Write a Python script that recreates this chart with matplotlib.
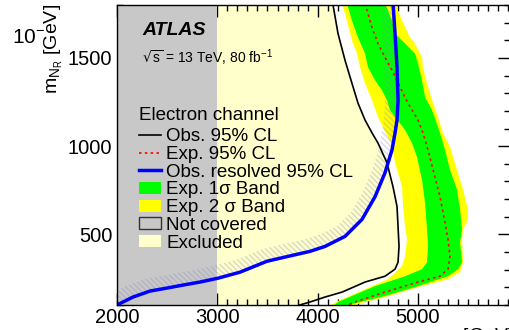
import numpy as np
import matplotlib
matplotlib.use("Agg")
import matplotlib.pyplot as plt
from matplotlib.patches import Patch, Polygon
from matplotlib.lines import Line2D
from matplotlib.ticker import MultipleLocator
from matplotlib.transforms import IdentityTransform

plt.rcParams['font.family'] = ['Liberation Sans', 'DejaVu Sans']
plt.rcParams['mathtext.default'] = 'regular'

# observed limit (black)
obs_x = [4150, 4203, 4273, 4342, 4402, 4472, 4542, 4601, 4691, 4751, 4791, 4801, 4811,
         4801, 4771, 4671, 4472, 4243, 4073, 3924, 3820]
obs_y = [1810, 1638, 1486, 1356, 1244, 1148, 1075, 1018, 906, 770, 658, 545, 432,
         342, 303, 263, 230, 173, 145, 117, 100]

# expected limit (red dotted)
exp_x = [4472, 4542, 4601, 4671, 4741, 4821, 4900, 5000, 5050, 5100, 5150, 5219, 5269,
         5299, 5319, 5299, 5219, 5000, 4671, 4402, 4300]
exp_y = [1810, 1672, 1582, 1503, 1430, 1334, 1244, 1148, 1075, 979, 866, 714, 568,
         472, 376, 303, 263, 230, 173, 123, 100]

# 2 sigma band edges
band2_lo_x = [4243, 4292, 4342, 4392, 4422, 4472, 4542, 4601, 4651, 4691, 4741, 4771,
              4841, 4851, 4871, 4891, 4871, 4841, 4701, 4472, 4203, 4100]
band2_lo_y = [1810, 1711, 1599, 1525, 1447, 1356, 1261, 1165, 1108, 1063, 1007, 906,
              770, 658, 545, 472, 376, 320, 246, 190, 123, 90]
band2_hi_x = [4771, 4841, 4920, 4970, 5040, 5050, 5090, 5140, 5199, 5249, 5319, 5389,
              5449, 5498, 5498, 5449, 5439, 5449, 5419, 5299, 5000, 4671, 4402, 4360]
band2_hi_y = [1810, 1711, 1616, 1582, 1503, 1447, 1356, 1261, 1165, 1075, 996, 866,
              754, 641, 585, 528, 472, 342, 286, 246, 201, 145, 106, 90]

# 1 sigma band edges
band1_lo_x = [4292, 4342, 4402, 4472, 4502, 4572, 4641, 4691, 4721, 4871, 4940, 4990,
              5040, 5070, 5090, 5100, 5090, 5040, 4871, 4572, 4342, 4203, 4150]
band1_lo_y = [1810, 1711, 1616, 1525, 1447, 1373, 1317, 1261, 1204, 1092, 1018, 939,
              810, 680, 528, 432, 342, 303, 263, 207, 151, 117, 90]
band1_hi_x = [4671, 4741, 4771, 4871, 4970, 5000, 5040, 5070, 5140, 5199, 5219, 5269,
              5319, 5389, 5419, 5439, 5419, 5439, 5399, 5299, 5000, 4671, 4342, 4300]
band1_hi_y = [1810, 1711, 1638, 1582, 1525, 1469, 1373, 1278, 1204, 1108, 1075, 979,
              866, 754, 641, 528, 455, 342, 303, 263, 207, 151, 106, 90]

# resolved observed limit (blue)
res_x = [2000, 2159, 2329, 2498, 2658, 2827, 3007, 3226, 3495, 3754, 3924, 4073, 4273,
         4442, 4572, 4671, 4741, 4771, 4791, 4801, 4791, 4771, 4751]
res_y = [100, 145, 179, 196, 213, 230, 252, 286, 348, 382, 404, 432, 489,
         585, 714, 849, 979, 1075, 1148, 1261, 1447, 1638, 1810]

not_covered = (2000, 3000)

legend_labels = ["Obs. 95% CL", "Exp. 95% CL", "Obs. resolved 95% CL",
                 "Exp. 1σ Band", "Exp. 2 σ Band", "Not covered", "Excluded"]

grey = '#c8c8c8'
light = '#ffffcc'

fig = plt.figure(figsize=(5.1, 3.3), dpi=100)
ax = fig.add_axes([117/510, 25/330, 393/510, 300/330])
ax.set_xlim(2000, 5917)
ax.set_ylim(100, 1800)

# excluded region
ex_x = list(obs_x) + [2000, 2000]
ex_y = list(obs_y) + [100, 1810]
ax.fill(ex_x, ex_y, color=light, lw=0, zorder=1)

# bands
ax.fill(band2_lo_x + band2_hi_x[::-1], band2_lo_y + band2_hi_y[::-1], color='#ffff00', lw=0, zorder=2)
ax.fill(band1_lo_x + band1_hi_x[::-1], band1_lo_y + band1_hi_y[::-1], color='#00ff00', lw=0, zorder=3)

# not covered
ax.axvspan(not_covered[0], not_covered[1], color=grey, lw=0, zorder=4)

# hatched side of the resolved limit
pts = ax.transData.transform(np.column_stack([res_x, res_y]))
t = np.gradient(pts, axis=0)
t /= np.hypot(t[:, 0], t[:, 1])[:, None]
nrm = np.column_stack([-t[:, 1], t[:, 0]])
off = pts + 13 * nrm
poly = np.vstack([pts, off[::-1]])
hatch = Polygon(poly, closed=True, transform=IdentityTransform(), facecolor='none',
                edgecolor='#8888bb', lw=0, hatch='\\' * 6, alpha=0.32, zorder=5)
ax.add_patch(hatch)
ax.set_xlim(2000, 5917)
ax.set_ylim(100, 1800)

ax.plot(obs_x, obs_y, color='black', lw=1.2, zorder=6)
ax.plot(exp_x, exp_y, color='red', lw=1.2, ls=(0, (1.5, 2)), zorder=6)
ax.plot(res_x, res_y, color='blue', lw=2.5, zorder=7)

ax.xaxis.set_major_locator(MultipleLocator(1000))
ax.xaxis.set_minor_locator(MultipleLocator(100))
ax.yaxis.set_major_locator(MultipleLocator(500))
ax.yaxis.set_minor_locator(MultipleLocator(100))
ax.tick_params(which='both', direction='in', top=True, right=True, labelsize=14.5, width=1)
ax.tick_params(which='major', length=8.5)
ax.tick_params(which='minor', length=4)
ax.tick_params(axis='x', pad=2.5)
ax.tick_params(axis='y', pad=3.5)
for s in ax.spines.values():
    s.set_linewidth(1)
    s.set_zorder(10)

fig.text(54/510, 1 - 4/330, r"m$_{N_{R}}$ [GeV]", rotation=90, ha='center', va='top', fontsize=14)
fig.text(1 + 3/510, 1 - 327/330, r"m$_{W_{R}}$ [GeV]", ha='right', va='top', fontsize=14)
fig.text(12/510, 1 - 43/330, r"10$^{-}$", ha='left', va='baseline', fontsize=15)

fig.text(142/510, 1 - 35/330, "ATLAS", fontsize=14, fontweight='bold', fontstyle='italic')
fig.text(142/510, 1 - 63/330, r"$\sqrt{s}$ = 13 TeV, 80 fb$^{-1}$", fontsize=10)

handles = [
    Line2D([], [], color='black', lw=1.2),
    Line2D([], [], color='red', lw=1.2, ls=(0, (1.5, 2))),
    Line2D([], [], color='blue', lw=2.5),
    Patch(facecolor='#00ff00', edgecolor='none'),
    Patch(facecolor='#ffff00', edgecolor='none'),
    Patch(facecolor=grey, edgecolor='#333333', lw=1),
    Patch(facecolor=light, edgecolor='none'),
]
leg = ax.legend(handles, legend_labels, title="Electron channel", alignment='left',
                loc='upper left', bbox_to_anchor=(139/510, 1 - 107/330),
                bbox_transform=fig.transFigure, frameon=False, fontsize=13.5,
                title_fontsize=13.5, borderpad=0, borderaxespad=0, handlelength=1.2,
                handleheight=0.6, handletextpad=0.25, labelspacing=0.04)
leg._legend_box.sep = 3
leg.set_zorder(20)

fig.savefig("out.png", dpi=100)
